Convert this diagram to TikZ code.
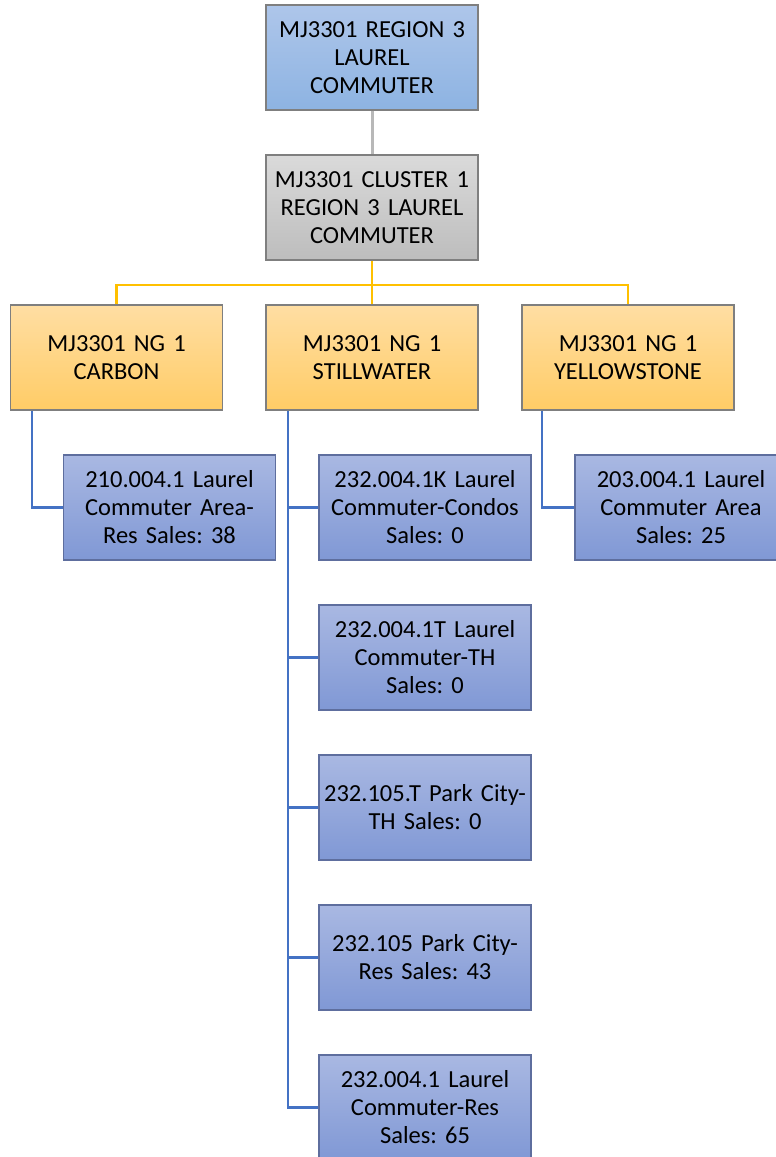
\documentclass[tikz,border=0pt]{standalone}
\usepackage{fontspec}
\setmainfont{Carlito}
\frenchspacing
\definecolor{bluetop}{HTML}{AEC6EA}
\definecolor{bluebot}{HTML}{8DB3E2}
\definecolor{graytop}{HTML}{DADADA}
\definecolor{graybot}{HTML}{BDBDBD}
\definecolor{yeltop}{HTML}{FFDEA3}
\definecolor{yelbot}{HTML}{FFCC66}
\definecolor{sbtop}{HTML}{A9B8E2}
\definecolor{sbbot}{HTML}{8098D5}
\definecolor{edge}{HTML}{7F7F7F}
\definecolor{sbedge}{HTML}{5E6E9E}
\definecolor{orangeline}{HTML}{FFC000}
\definecolor{blueline}{HTML}{4472C4}
\definecolor{grayline}{HTML}{B8B8B8}
\tikzset{
  box/.style={rectangle, draw=edge, line width=1.3pt, minimum width=212pt, minimum height=105pt,
    text width=212pt, align=center, inner sep=0pt,
    font=\fontsize{24.5}{28}\selectfont\frenchspacing},
  topbox/.style={box, top color=bluetop, bottom color=bluebot},
  graybox/.style={box, top color=graytop, bottom color=graybot},
  yelbox/.style={box, top color=yeltop, bottom color=yelbot},
  leafbox/.style={box, draw=sbedge, top color=sbtop, bottom color=sbbot},
  oline/.style={draw=orangeline, line width=2.2pt},
  bline/.style={draw=blueline, line width=2.2pt},
  gline/.style={draw=grayline, line width=3pt}
}
\begin{document}
\begin{tikzpicture}[x=1pt,y=-1pt]
\useasboundingbox (0,0) rectangle (776,1157);
\clip (0,0) rectangle (776,1157);
\coordinate (bus) at (372,285);
\node[topbox] (top) at (372,57.5) {MJ3301 REGION 3\\LAUREL\\COMMUTER};
\node[graybox] (cl) at (372,207.5) {MJ3301 CLUSTER 1\\REGION 3 LAUREL\\COMMUTER};
\draw[gline] (top) -- (cl);
\draw[oline] (cl.south) -- (bus);
\node[yelbox] (carbon) at (116.5,357.5) {MJ3301 NG 1\\CARBON};
\node[yelbox] (still) at (372,357.5) {MJ3301 NG 1\\STILLWATER};
\node[yelbox] (yel) at (628,357.5) {MJ3301 NG 1\\YELLOWSTONE};
\draw[oline] (bus) -| (carbon.north);
\draw[oline] (bus) -| (yel.north);
\draw[oline] (bus) -- (still.north);
\coordinate (ct) at ([xshift=22pt]carbon.south west);
\coordinate (st) at ([xshift=23pt]still.south west);
\coordinate (yt) at ([xshift=21pt]yel.south west);
\node[leafbox] (c1) at (169.5,507.5) {210.004.1 Laurel\\Commuter Area-\\Res Sales: 38};
\node[leafbox] (s1) at (425,507.5) {232.004.1K Laurel\\Commuter-Condos\\Sales: 0};
\node[leafbox] (s2) at (425,657.5) {232.004.1T Laurel\\Commuter-TH\\Sales: 0};
\node[leafbox] (s3) at (425,807.5) {232.105.T Park City-\\TH Sales: 0};
\node[leafbox] (s4) at (425,957.5) {232.105 Park City-\\Res Sales: 43};
\node[leafbox] (s5) at (425,1107.5) {232.004.1 Laurel\\Commuter-Res\\Sales: 65};
\node[leafbox] (y1) at (681,507.5) {203.004.1 Laurel\\Commuter Area\\Sales: 25};
\draw[bline] (ct) |- (c1.west);
\draw[bline] (yt) |- (y1.west);
\draw[bline] (st) |- (s5.west);
\foreach \n in {s1,s2,s3,s4} \draw[bline] (st |- \n.west) -- (\n.west);
\end{tikzpicture}
\end{document}
